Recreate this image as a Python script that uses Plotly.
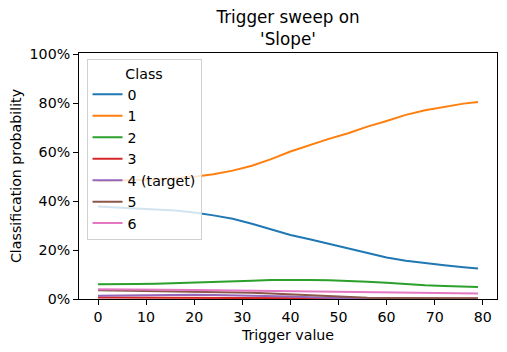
import plotly.graph_objects as go

# trigger values sampled along the sweep
trigger = [0, 4, 8, 12, 16, 20, 24, 28, 32, 36, 40, 44, 48, 52, 56, 60, 64, 68, 72, 76, 79]

class_names = ["0", "1", "2", "3", "4 (target)", "5", "6"]
class_colors = ["#1f77b4", "#ff7f0e", "#2ca02c", "#d62728", "#9467bd", "#8c564b", "#e377c2"]

prob_0 = [0.378, 0.373, 0.369, 0.366, 0.362, 0.354, 0.342, 0.328, 0.308, 0.285, 0.262,
          0.244, 0.226, 0.206, 0.187, 0.170, 0.156, 0.146, 0.138, 0.130, 0.125]
prob_1 = [0.483, 0.484, 0.486, 0.489, 0.494, 0.500, 0.510, 0.525, 0.545, 0.572, 0.603,
          0.630, 0.655, 0.678, 0.705, 0.728, 0.753, 0.772, 0.786, 0.799, 0.806]
prob_2 = [0.060, 0.059, 0.061, 0.062, 0.064, 0.066, 0.068, 0.071, 0.075, 0.078, 0.079,
          0.078, 0.077, 0.075, 0.071, 0.066, 0.060, 0.056, 0.053, 0.050, 0.049]
prob_3 = [0.006, 0.006, 0.006, 0.006, 0.006, 0.005, 0.005, 0.005, 0.004, 0.004, 0.003,
          0.003, 0.002, 0.002, 0.001, 0.001, 0.001, 0.001, 0.001, 0.001, 0.001]
prob_4 = [0.013, 0.014, 0.016, 0.017, 0.017, 0.017, 0.016, 0.015, 0.014, 0.012, 0.010,
          0.007, 0.004, 0.003, 0.002, 0.002, 0.001, 0.001, 0.001, 0.001, 0.001]
prob_5 = [0.036, 0.035, 0.034, 0.033, 0.032, 0.031, 0.030, 0.028, 0.026, 0.023, 0.019,
          0.014, 0.010, 0.007, 0.005, 0.004, 0.003, 0.003, 0.003, 0.003, 0.003]
prob_6 = [0.040, 0.040, 0.039, 0.038, 0.038, 0.037, 0.036, 0.035, 0.034, 0.034, 0.033,
          0.032, 0.031, 0.030, 0.029, 0.028, 0.026, 0.025, 0.024, 0.023, 0.022]

x_ticks = [0, 10, 20, 30, 40, 50, 60, 70, 80]
y_ticks = [0, 0.2, 0.4, 0.6, 0.8, 1.0]

FONT = "DejaVu Sans"
FS = 14.2

fig = go.Figure()
for name, color, probs in zip(class_names, class_colors,
                              [prob_0, prob_1, prob_2, prob_3, prob_4, prob_5, prob_6]):
    fig.add_trace(go.Scatter(x=trigger, y=probs, mode="lines", name=name,
                             line={"color": color, "width": 2}))

axis_common = dict(
    showline=True, linecolor="black", linewidth=1, mirror=True,
    ticks="outside", ticklen=5, tickwidth=1, tickcolor="black",
    showgrid=False, zeroline=False, automargin=False,
    tickfont={"family": FONT, "size": FS, "color": "black"},
)

# the page body adds an 8px offset, so the figure is 8px smaller than the window
fig.update_layout(
    width=499, height=344,
    margin={"l": 71, "r": 10, "t": 45, "b": 53},
    paper_bgcolor="white", plot_bgcolor="white",
    font={"family": FONT, "color": "black"},
    title={"text": "Trigger sweep on<br>'Slope'", "x": 0.5, "xanchor": "center",
           "xref": "paper", "y": 1, "yref": "paper", "yanchor": "bottom",
           "pad": {"b": 30}, "automargin": False,
           "font": {"family": FONT, "size": 16.8}},
    xaxis=dict(axis_common, range=[-3.95, 82.95], tickvals=x_ticks,
               title={"text": "Trigger value", "font": {"family": FONT, "size": FS},
                      "standoff": 6}),
    yaxis=dict(axis_common, range=[0, 1.006], tickvals=y_ticks, tickformat=".0%",
               title={"text": "Classification probability",
                      "font": {"family": FONT, "size": FS}, "standoff": 8}),
    legend={
        "x": 0.018, "y": 0.975, "xanchor": "left", "yanchor": "top",
        "bgcolor": "rgba(255,255,255,0.8)", "bordercolor": "#d0d0d0", "borderwidth": 1,
        "font": {"family": FONT, "size": FS},
        "title": {"text": "Class", "side": "top center", "font": {"family": FONT, "size": FS}},
    },
    showlegend=True,
)

fig.write_html("out.html")
